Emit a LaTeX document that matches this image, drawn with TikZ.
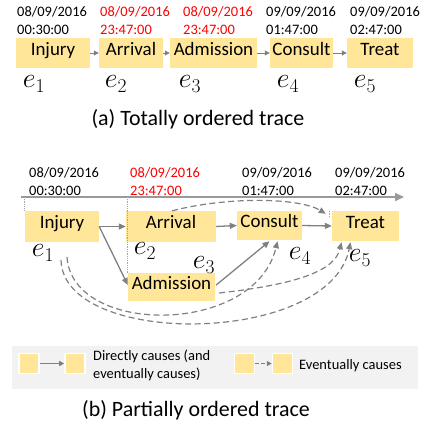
\documentclass[tikz,border=0pt]{standalone}
\usepackage{fix-cm}
\usepackage{fontspec}
\setmainfont{Carlito}
\usepackage{tikz}
\usetikzlibrary{arrows.meta,positioning,calc}
\definecolor{evfill}{RGB}{255,230,153}
\definecolor{arrgray}{RGB}{128,128,128}
\definecolor{legbg}{RGB}{242,242,242}

\begin{document}
\begin{tikzpicture}[
  x=1bp,y=-1bp,
  font=\fontsize{19}{22}\selectfont,
  ev/.style={fill=evfill,minimum height=30bp,inner sep=0pt,text height=0.7em,text depth=0.2em},
  stamp/.style={anchor=north west,inner sep=0pt,align=left,font=\fontsize{14.5}{18}\selectfont},
  late/.style={stamp,text=red},
  lbl/.style={inner sep=0pt,font=\fontsize{28}{28}\selectfont},
  subcap/.style={inner sep=0pt,font=\fontsize{22}{24}\selectfont},
  direct/.style={-{Triangle[length=7bp,width=6bp]},arrgray,line width=1.3bp},
  small/.style={-{Triangle[length=5bp,width=5bp]},arrgray,line width=1bp},
  event/.style={-{Triangle[length=7bp,width=6bp]},arrgray,line width=1.2bp,dash pattern=on 6bp off 3.5bp},
  tick/.style={draw=gray!70,densely dotted,line width=0.8bp},
  sq/.style={fill=evfill,draw=white,line width=1.5bp,minimum size=20bp,inner sep=0pt}
]
\useasboundingbox (0,0) rectangle (422,429);

% (a)
\node[stamp] (da1) at (17,6) {08/09/2016\\00:30:00};
\node[late]  (da2) at (100,6) {08/09/2016\\23:47:00};
\node[late]  (da3) at (183,6) {08/09/2016\\23:47:00};
\node[stamp] (da4) at (266,6) {09/09/2016\\01:47:00};
\node[stamp] (da5) at (350,6) {09/09/2016\\02:47:00};

\node[ev,minimum width=74bp] (a1) at (53,53) {Injury};
\node[ev,minimum width=64bp] (a2) at (131,53) {Arrival};
\node[ev,minimum width=87bp] (a3) at (213.5,53) {Admission};
\node[ev,minimum width=63bp] (a4) at (301.5,53) {Consult};
\node[ev,minimum width=66bp] (a5) at (380,53) {Treat};

\draw[small] (a1) -- (a2);
\draw[small] (a2) -- (a3);
\draw[small] (a3) -- (a4);
\draw[small] (a4) -- (a5);

\node[lbl] (ea1) at (34,84) {$e_1$};
\node[lbl] (ea2) at (116,84) {$e_2$};
\node[lbl] (ea3) at (190,84) {$e_3$};
\node[lbl] (ea4) at (288,84) {$e_4$};
\node[lbl] (ea5) at (365,84) {$e_5$};

\node[subcap] (capa) at (198,119) {(a) Totally ordered trace};

% (b)
\node[stamp] (db1) at (29,167) {08/09/2016\\00:30:00};
\node[late]  (db2) at (130,167) {08/09/2016\\23:47:00};
\node[stamp] (db4) at (242,167) {09/09/2016\\01:47:00};
\node[stamp] (db5) at (335,167) {09/09/2016\\02:47:00};

\coordinate (t0) at (21,197);
\coordinate (t1) at (404,197);
\draw[-{Triangle[length=9bp,width=8bp]},gray!80,line width=1.6bp] (t0) -- (t1);

\node[ev,minimum width=74bp,minimum height=31bp] (inj) at (62,226.5) {Injury};
\node[ev,minimum width=90bp,minimum height=31bp] (arr) at (171,226.5) {Arrival};
\node[ev,minimum width=65bp,minimum height=29bp] (con) at (269.5,225.5) {Consult};
\node[ev,minimum width=67bp,minimum height=30bp] (trt) at (365.5,226) {Treat};
\node[ev,minimum width=87bp,minimum height=28bp] (adm) at (171.5,287) {Admission};

\draw[tick] (inj.north west |- t0) -- (inj.north west);
\draw[tick] (adm.north west |- t0) -- (adm.north west);
\draw[tick] ($(con.north west)+(1,0)$ |- t0) -- ($(con.north west)+(1,0)$);
\draw[tick] ($(trt.north west)+(-2,0)$ |- t0) -- ($(trt.north west)+(-2,6)$);

\node[lbl] (e1) at (43,253) {$e_1$};
\node[lbl] (e2) at (145,251) {$e_2$};
\node[lbl] (e3) at (204,265) {$e_3$};
\node[lbl] (e4) at (300,256) {$e_4$};
\node[lbl] (e5) at (360,258) {$e_5$};

\draw[direct] (inj.east) -- (arr.west);
\draw[direct] (inj.east) -- ($(adm.west)+(0,-2)$);
\draw[direct] (arr.east) -- (con.west);
\draw[direct] (con.east) -- (trt.west);
\draw[direct] ($(adm.east)+(1,-2)$) -- ($(con.south)+(0,1)$);

\coordinate (injA) at (61,260);
\coordinate (injB) at (67,257);
\draw[event] ($(arr.north)+(1,0)$) .. controls (230,196) and (300,198) .. ($(trt.north west)+(-6,3)$);
\draw[event] ($(adm.east)+(4,6)$) .. controls (300,284) and (335,270) .. ($(trt.south)+(-24,1)$);
\draw[event] (injB) .. controls (72,336) and (255,336) .. ($(con.south)+(8,1)$);
\draw[event] (injA) .. controls (63,348) and (330,346) .. ($(trt.south)+(-15,1)$);

% legend
\node[fill=legbg,minimum width=406bp,minimum height=43bp,inner sep=0pt] (leg) at (215,367.5) {};
\node[sq] (s1) at (29,363.5) {};
\node[sq] (s2) at (75,363.5) {};
\draw[small,line width=1.2bp] (s1) -- (s2);
\node[anchor=west,align=left,inner sep=0pt,font=\fontsize{14.5}{18}\selectfont] (lt1) at (93,365) {Directly causes (and\\eventually causes)};
\node[sq] (s3) at (244.5,363.5) {};
\node[sq] (s4) at (282.5,363.5) {};
\draw[small,line width=1.2bp,dash pattern=on 4bp off 2bp] (s3) -- (s4);
\node[anchor=west,inner sep=0pt,font=\fontsize{14.5}{18}\selectfont] (lt2) at (299,366) {Eventually causes};

\node[subcap] (capb) at (196,410) {(b) Partially ordered trace};
\end{tikzpicture}
\end{document}
